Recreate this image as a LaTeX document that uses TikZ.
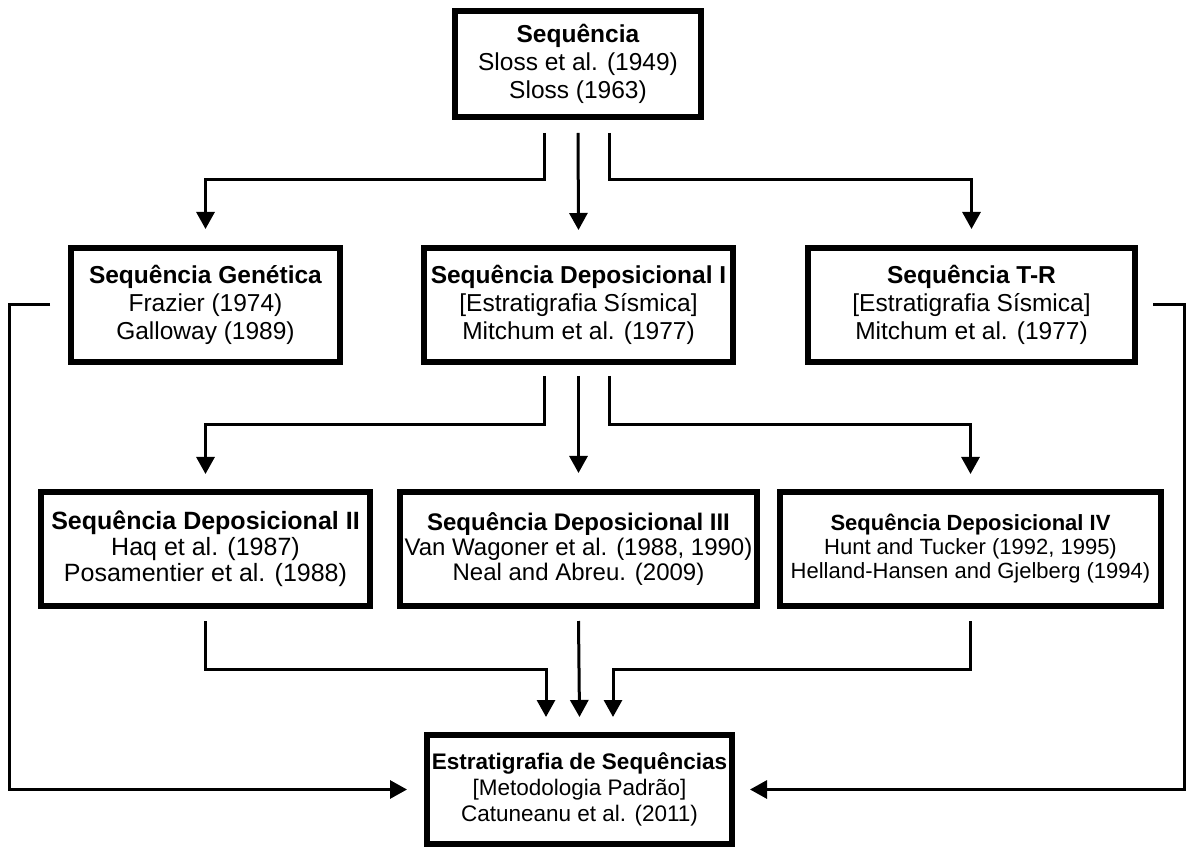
\documentclass[tikz,border=0pt]{standalone}
\usepackage{fontspec}
\setmainfont{Liberation Sans}
\usetikzlibrary{arrows.meta}

\tikzset{
  box/.style={draw, line width=3pt, align=center, inner sep=0pt},
  link/.style={line width=1.5pt, -{Triangle[length=8.5pt,width=9pt]}},
}

\begin{document}
\begin{tikzpicture}[x=0.5pt,y=-0.5pt]

  % Frame (pixel units, y pointing down)
  \useasboundingbox (0,0) rectangle (1187,849);

  % Top box
  \node[box, minimum width=123pt, minimum height=53pt,
        font=\fontsize{12.25}{14}\selectfont] (seq) at (578,64)
    {\textbf{Sequência}\\Sloss et al. (1949)\\Sloss (1963)};

  % Second row
  \node[box, minimum width=134.5pt, minimum height=57pt,
        font=\fontsize{12.25}{14}\selectfont] (gen) at (205.5,305)
    {\textbf{Sequência Genética}\\Frazier (1974)\\Galloway (1989)};
  \node[box, minimum width=154.5pt, minimum height=57pt,
        font=\fontsize{12.25}{14}\selectfont] (depI) at (578.5,305)
    {\textbf{Sequência Deposicional I}\\{}[Estratigrafia Sísmica]\\Mitchum et al. (1977)};
  \node[box, minimum width=163.5pt, minimum height=57pt,
        font=\fontsize{12.25}{14}\selectfont] (tr) at (971.5,305)
    {\textbf{Sequência T-R}\\{}[Estratigrafia Sísmica]\\Mitchum et al. (1977)};

  % Third row
  \node[box, minimum width=164.5pt, minimum height=57pt,
        font=\fontsize{12.5}{13}\selectfont] (depII) at (205.5,549)
    {\textbf{Sequência Deposicional II}\\Haq et al. (1987)\\Posamentier et al. (1988)};
  \node[box, minimum width=178.5pt, minimum height=57pt,
        font=\fontsize{12}{12.5}\selectfont] (depIII) at (578.5,549)
    {\textbf{Sequência Deposicional III}\\Van Wagoner et al. (1988, 1990)\\Neal and Abreu. (2009)};
  \node[box, minimum width=190.5pt, minimum height=57pt,
        font=\fontsize{11}{12}\selectfont] (depIV) at (970.5,549)
    {\textbf{Sequência Deposicional IV}\\Hunt and Tucker (1992, 1995)\\Helland-Hansen and Gjelberg (1994)};

  % Bottom box
  \node[box, minimum width=152.5pt, minimum height=54.5pt,
        font=\fontsize{11.25}{13}\selectfont] (estrat) at (579.5,789.5)
    {\textbf{Estratigrafia de Sequências}\\{}[Metodologia Padrão]\\Catuneanu et al. (2011)};

  % Top box -> second row
  \draw[link] ([xshift=-17pt,yshift=-6.5pt]seq.south) -- ++(0,47) -| ([yshift=8pt]gen.north);
  \draw[link] ([yshift=-6.5pt]seq.south) -- ([yshift=7.5pt]depI.north);
  \draw[link] ([xshift=15.5pt,yshift=-6.5pt]seq.south) -- ++(0,47) -| ([yshift=8pt]tr.north);

  % Deposicional I -> third row
  \draw[link] ([xshift=-17pt,yshift=-5.5pt]depI.south) -- ++(0,49) -| ([yshift=7.5pt]depII.north);
  \draw[link] ([yshift=-5.5pt]depI.south) -- ([yshift=8pt]depIII.north);
  \draw[link] ([xshift=15.5pt,yshift=-5.5pt]depI.south) -- ++(0,49) -| ([yshift=7.5pt]depIV.north);

  % Third row -> bottom box
  \draw[link] ([yshift=-6pt]depII.south) -- ++(0,48) -| ([xshift=-16.75pt,yshift=7.5pt]estrat.north);
  \draw[link] ([yshift=-6pt]depIII.south) -- ([yshift=7.5pt]estrat.north);
  \draw[link] ([yshift=-6pt]depIV.south) -- ++(0,48) -| ([xshift=16.75pt,yshift=7.5pt]estrat.north);

  % Side loops into the bottom box
  \draw[link] ([xshift=-9pt]gen.west) -- ++(-41,0) |- ([xshift=-8.5pt]estrat.west);
  \draw[link] ([xshift=7.5pt]tr.east) -- ++(31,0) |- ([xshift=7.5pt]estrat.east);

\end{tikzpicture}
\end{document}
